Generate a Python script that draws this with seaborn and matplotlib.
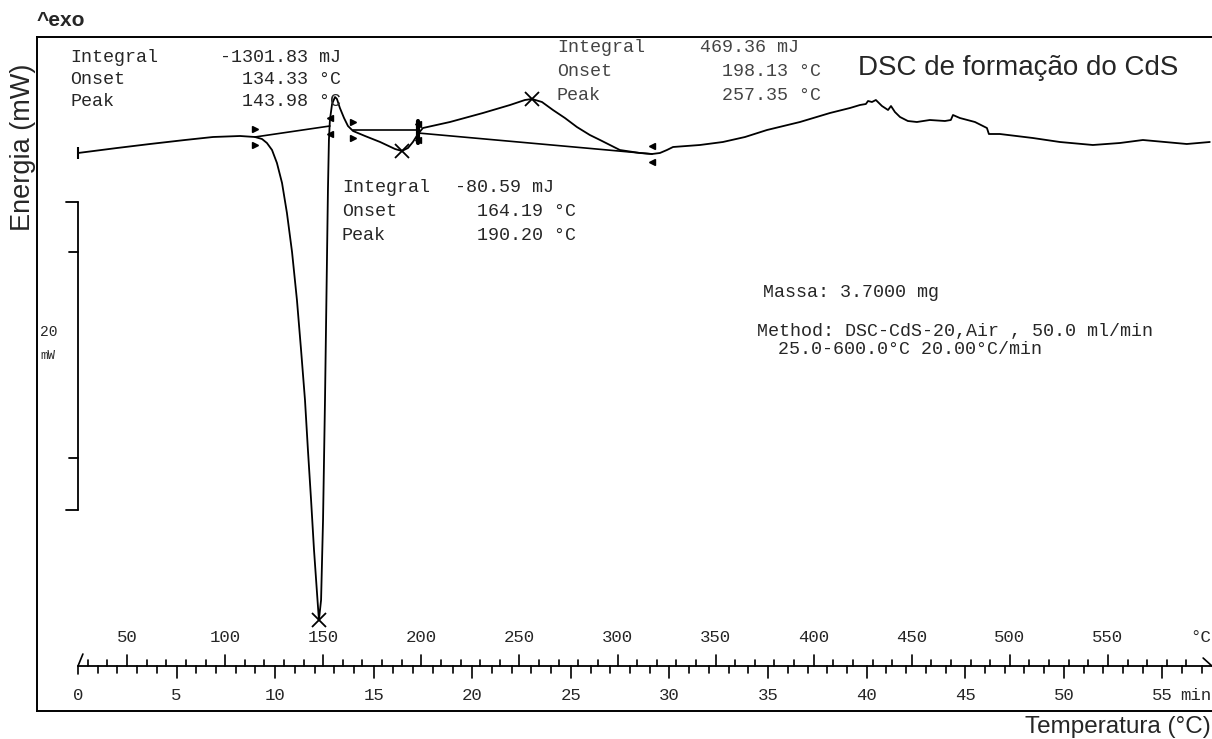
import matplotlib
matplotlib.use("Agg")
import matplotlib.pyplot as plt
import seaborn as sns
import pandas as pd

# ---------------- data ----------------
temp_c = [25.0, 44.9, 61.7, 79.5, 93.8, 107.6, 115.2, 118.8, 121.3, 123.9, 126.4, 129.0,
          131.5, 134.1, 136.6, 138.7, 140.7, 142.2, 143.8, 145.3, 146.9, 147.8, 148.9,
          149.9, 150.9, 151.9, 152.4, 152.9, 153.4, 154.5, 156.0, 157.0, 158.5, 160.6,
          162.6, 165.2, 171.3, 179.0, 186.6, 190.1, 193.2, 195.7, 198.3, 200.8, 214.6,
          231.4, 245.2, 252.8, 256.4, 261.5, 267.1, 273.2, 279.3, 285.9, 291.1, 301.2,
          311.4, 317.6, 321.6, 325.2, 328.3, 342.0, 353.7, 365.0, 376.2, 393.0, 408.3,
          418.5, 423.6, 426.6, 427.7, 429.7, 431.7, 434.8, 437.9, 439.4, 441.4, 444.0,
          448.0, 452.6, 459.2, 466.9, 469.9, 471.0, 474.5, 482.2, 488.3, 489.3, 494.9,
          511.7, 525.5, 542.3, 556.1, 567.8, 579.0, 590.2, 601.9]
heat_flow_mw = [-1.3, -0.8, -0.4, 0.0, 0.3, 0.4, 0.3, 0.1, -0.3, -1.0, -2.3, -4.3,
                -7.3, -11.2, -16.0, -21.0, -26.0, -31.0, -36.0, -41.0, -45.5, -48.0, -46.0,
                -38.0, -26.0, -12.0, -5.0, 0.0, 2.0, 3.6, 4.3, 4.1, 3.2, 2.2,
                1.4, 0.9, 0.4, -0.2, -0.9, -1.1, -0.8, -0.2, 0.6, 1.2, 1.8,
                2.7, 3.5, 4.0, 4.1, 3.8, 3.0, 2.2, 1.3, 0.5, 0.0, -1.0,
                -1.3, -1.4, -1.3, -1.0, -0.7, -0.5, -0.2, 0.3, 1.0, 1.8, 2.7,
                3.2, 3.5, 3.6, 3.9, 3.8, 4.0, 3.4, 3.0, 3.4, 2.8, 2.3,
                1.9, 1.8, 2.0, 1.9, 2.0, 2.5, 2.2, 1.8, 1.2, 0.6, 0.6,
                0.2, -0.2, -0.5, -0.3, 0.0, -0.2, -0.4, -0.2]

# integration baselines (start T, end T, start mW, end mW)
baseline_t = [[115.2, 153.4], [165.2, 198.3], [198.3, 317.6]]
baseline_y = [[0.3, 1.4], [1.0, 1.0], [0.7, -1.4]]

# evaluation limits (onset / endset markers)
limit_t = [115.2, 153.4, 165.2, 198.3, 317.6]
limit_y = [0.3, 1.4, 1.0, 0.8, -1.4]
limit_dir = ['>', '<', '>', '|', '<']

# peak markers
peak_t = [147.8, 190.1, 256.4]
peak_y = [-48.0, -1.1, 4.1]

temp_tick_labels = [50, 100, 150, 200, 250, 300, 350, 400, 450, 500, 550]
time_tick_labels = [0, 5, 10, 15, 20, 25, 30, 35, 40, 45, 50, 55]

block1 = ["Integral", "Onset", "Peak"]
block1_vals = ["-1301.83 mJ", "134.33 °C", "143.98 °C"]
block2_vals = ["-80.59 mJ", "164.19 °C", "190.20 °C"]
block3_vals = ["469.36 mJ", "198.13 °C", "257.35 °C"]

# ---------------- figure ----------------
sns.set_theme(style="white")
plt.rcParams['font.family'] = ['Liberation Sans', 'DejaVu Sans']
MONO = ['Liberation Mono', 'DejaVu Sans Mono']

W, H = 1212, 739
fig = plt.figure(figsize=(W / 100, H / 100), dpi=100)
ax = fig.add_axes([37 / W, (H - 711) / H, (1240 - 37) / W, (711 - 37) / H])
ax.set_xlim(4.1, 617.3)
ax.set_ylim(-57.1, 10.3)
ax.set_xticks([])
ax.set_yticks([])
for s in ['left', 'top', 'bottom']:
    ax.spines[s].set_color('black')
    ax.spines[s].set_linewidth(1.4)
ax.spines['right'].set_visible(False)

df = pd.DataFrame({"T": temp_c, "mW": heat_flow_mw})
sns.lineplot(data=df, x="T", y="mW", color="black", linewidth=1.3,
             estimator=None, sort=False, ax=ax)
ax.set_xlabel("")
ax.set_ylabel("")

for bt, by in zip(baseline_t, baseline_y):
    ax.plot(bt, by, color="black", lw=1.2)

for t, y, d in zip(limit_t, limit_y, limit_dir):
    if d == '|':
        ax.plot([t, t], [y - 1.1, y + 1.1], color="black", lw=3)
        ax.plot([t], [y + 0.8], marker='<', ms=5, color='black')
        ax.plot([t], [y - 0.8], marker='<', ms=5, color='black')
    else:
        ax.plot([t], [y + 0.8], marker=d, ms=5, color='black', lw=0)
        ax.plot([t], [y - 0.8], marker=d, ms=5, color='black', lw=0)

ax.plot(peak_t, peak_y, linestyle='none', marker='x', ms=10, mew=1.3, color='black')
ax.plot([temp_c[0]], [heat_flow_mw[0]], marker='|', ms=9, mew=1.5, color='black')

# scale bar (20 mW)
ax.plot([25, 25], [-6.2, -37.0], color='black', lw=1.3)
for yy, x0 in [(-6.2, 18.9), (-11.2, 20.4), (-31.8, 20.4), (-37.0, 18.9)]:
    ax.plot([x0, 25], [yy, yy], color='black', lw=1.3)

# ruler (temperature above, time below)
y0 = -52.6
ax.plot([25, 603], [y0, y0], color='black', lw=1.3)
ax.plot([25, 27.5], [y0, y0 + 1.2], color='black', lw=1.2)
ax.plot([25, 25], [y0, y0 - 0.8], color='black', lw=1.2)
ax.plot([598.5, 603], [y0 + 0.8, y0], color='black', lw=1.2)
for T in range(30, 600, 10):
    top = y0 + 1.1 if T % 50 == 0 else y0 + 0.6
    ax.plot([T, T], [y0, top], color='black', lw=1.2)
for t in range(1, 58):
    T = 25 + 10.05 * t
    bot = y0 - 1.2 if t % 5 == 0 else y0 - 0.7
    ax.plot([T, T], [y0, bot], color='black', lw=1.2)
for T in temp_tick_labels:
    ax.text(T, -49.8, str(T), ha='center', va='center', fontsize=12.5, family=MONO)
for t in time_tick_labels:
    ax.text(25 + 10.05 * t, -55.6, str(t), ha='center', va='center', fontsize=12.5, family=MONO)

# ---------------- text ----------------
def fx(x):
    return x / W

def fy(y):
    return 1 - y / H

fig.text(fx(1211), fy(638), "°C", ha='right', va='center', fontsize=12.5, family=MONO)
fig.text(fx(1211), fy(695), "min", ha='right', va='center', fontsize=12.5, family=MONO)

mono_kw = dict(fontsize=13.2, family=MONO, va='center')
for lab, val, yy in zip(block1, block1_vals, [57, 80, 102]):
    fig.text(fx(70), fy(yy), lab, ha='left', **mono_kw)
    fig.text(fx(341), fy(yy), val, ha='right', **mono_kw)
for lab, val, yy, xv in zip(block1, block2_vals, [188, 212, 235], [455, 477, 477]):
    fig.text(fx(342), fy(yy), lab, ha='left', **mono_kw)
    fig.text(fx(xv), fy(yy), val, ha='left', **mono_kw)
for lab, val, yy, xv in zip(block1, block3_vals, [48, 72, 95], [700, 722, 722]):
    fig.text(fx(557), fy(yy), lab, ha='left', color='#444444', **mono_kw)
    fig.text(fx(xv), fy(yy), val, ha='left', color='#444444', **mono_kw)

fig.text(fx(763), fy(293), "Massa: 3.7000 mg", ha='left', **mono_kw)
fig.text(fx(757), fy(332), "Method: DSC-CdS-20,Air , 50.0 ml/min", ha='left', **mono_kw)
fig.text(fx(778), fy(350), "25.0-600.0°C 20.00°C/min", ha='left', **mono_kw)

fig.text(fx(40), fy(332), "20", ha='left', va='center', fontsize=10.5, family=MONO)
fig.text(fx(40), fy(356), "mW", ha='left', va='center', fontsize=9, family=MONO)

fig.text(fx(858), fy(68), "DSC de formação do CdS", ha='left', va='center', fontsize=20)
fig.text(fx(37), fy(21), "^exo", ha='left', va='center', fontsize=15, fontweight='bold')
fig.text(fx(23), fy(147), "Energia (mW)", ha='center', va='center', rotation=90, fontsize=19.5)
fig.text(fx(1211), fy(727), "Temperatura (°C)", ha='right', va='center', fontsize=17.5)

fig.savefig("out.png", dpi=100)
